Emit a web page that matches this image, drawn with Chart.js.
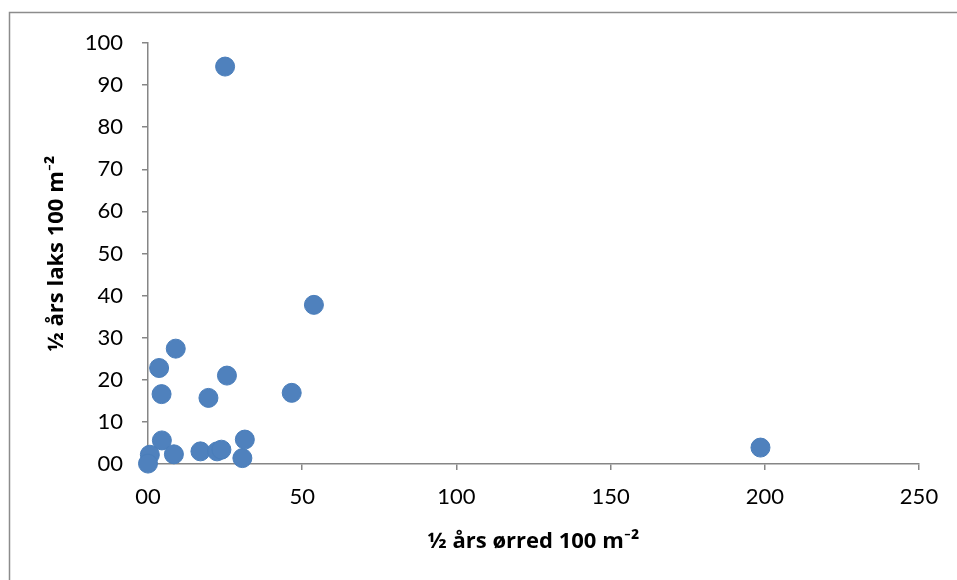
<!DOCTYPE html>
<html>
<head>
<meta charset="utf-8">
<script src="https://cdn.jsdelivr.net/npm/chart.js@4.4.1/dist/chart.umd.min.js"></script>
<style>
  html, body { margin: 0; padding: 0; background: #fff; }
  #wrap { width: 957px; height: 580px; }
</style>
</head>
<body>
<div id="wrap"><canvas id="chart" width="957" height="580"></canvas></div>
<script>
// values: ½ års ørred (x) vs ½ års laks (y)
var troutX = [25.0, 53.8, 9.0, 3.6, 25.6, 4.4, 19.6, 46.6, 4.5, 31.4, 0.6, 8.4, 17.0, 22.4, 23.8, 30.6, 0.0, 198.6];
var salmonY = [94.4, 37.8, 27.4, 22.8, 21.0, 16.6, 15.7, 16.9, 5.6, 5.8, 2.2, 2.3, 3.0, 3.0, 3.4, 1.4, 0.1, 3.9];

var xTicks = [0, 50, 100, 150, 200, 250];
var xTickLabels = ['00', '50', '100', '150', '200', '250'];
var yTicks = [0, 10, 20, 30, 40, 50, 60, 70, 80, 90, 100];
var yTickLabels = ['00', '10', '20', '30', '40', '50', '60', '70', '80', '90', '100'];

var xTitle = '½ års ørred 100 m⁻²';
var yTitle = '½ års laks 100 m⁻²';

var axisGray = '#868686';
var tickFont = 'Lato, "Open Sans", sans-serif';
var titleFont = '"Open Sans", Lato, sans-serif';

// build point list
var points = [];
for (var i = 0; i < troutX.length; i++) {
  points.push({ x: troutX[i], y: salmonY[i] });
}

// outer frame like the spreadsheet chart border
var frame = {
  id: 'frame',
  beforeDraw: function(chart) {
    var ctx = chart.ctx;
    ctx.save();
    ctx.fillStyle = '#fff';
    ctx.fillRect(0, 0, chart.width, chart.height);
    ctx.strokeStyle = '#8c8c8c';
    ctx.lineWidth = 1.5;
    ctx.strokeRect(9.5, 12.5, chart.width + 20, chart.height + 20);
    ctx.restore();
  }
};

new Chart(document.getElementById('chart'), {
  type: 'scatter',
  data: {
    datasets: [{
      data: points,
      backgroundColor: '#4f81bd',
      borderColor: '#4a7ebb',
      borderWidth: 1,
      pointRadius: 9.5,
      pointHoverRadius: 9.5,
      clip: false
    }]
  },
  options: {
    responsive: false,
    animation: false,
    layout: { padding: { left: 10, right: 38, top: 43, bottom: 10 } },
    plugins: { legend: { display: false }, tooltip: { enabled: false } },
    scales: {
      x: {
        type: 'linear',
        min: 0, max: 250,
        afterBuildTicks: function(s) { s.ticks = xTicks.map(function(v) { return { value: v }; }); },
        afterFit: function(s) { s.height = 106; },
        ticks: {
          color: '#000',
          font: { family: tickFont, size: 22 },
          padding: 14,
          maxRotation: 0,
          callback: function(v) { return xTickLabels[xTicks.indexOf(v)]; }
        },
        grid: { display: true, drawOnChartArea: false, drawTicks: true, tickLength: 6, color: axisGray, lineWidth: 1.5 },
        border: { display: true, color: axisGray, width: 1.5 },
        title: {
          display: true,
          text: xTitle,
          color: '#000',
          font: { family: titleFont, size: 22, weight: 'bold' },
          padding: { top: 0, bottom: 15 }
        }
      },
      y: {
        type: 'linear',
        min: 0, max: 100,
        afterBuildTicks: function(s) { s.ticks = yTicks.map(function(v) { return { value: v }; }); },
        afterFit: function(s) { s.width = 138; },
        ticks: {
          color: '#000',
          font: { family: tickFont, size: 22 },
          padding: 19,
          callback: function(v) { return yTickLabels[yTicks.indexOf(v)]; }
        },
        grid: { display: true, drawOnChartArea: false, drawTicks: true, tickLength: 6, color: axisGray, lineWidth: 1.5 },
        border: { display: true, color: axisGray, width: 1.5 },
        title: {
          display: true,
          text: yTitle,
          color: '#000',
          font: { family: titleFont, size: 22, weight: 'bold' },
          padding: { top: 34, bottom: 0 }
        }
      }
    }
  },
  plugins: [frame]
});
</script>
</body>
</html>
